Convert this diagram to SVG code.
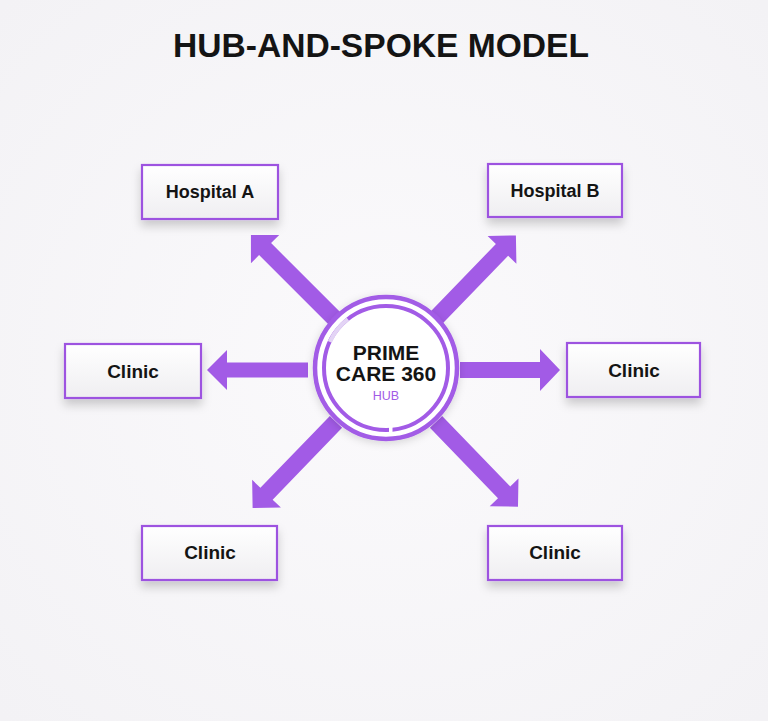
<svg xmlns="http://www.w3.org/2000/svg" width="768" height="721" viewBox="0 0 768 721">
<defs>
<radialGradient id="bg" cx="50%" cy="50%" r="70%">
<stop offset="0" stop-color="#fbfafc"/>
<stop offset="1" stop-color="#f3f2f5"/>
</radialGradient>
<linearGradient id="boxfill" x1="0" y1="0" x2="0" y2="1">
<stop offset="0" stop-color="#ffffff"/>
<stop offset="1" stop-color="#efeef1"/>
</linearGradient>
<filter id="shadow" x="-20%" y="-20%" width="140%" height="160%">
<feDropShadow dx="0" dy="6" stdDeviation="5" flood-color="#000" flood-opacity="0.18"/>
</filter>
<filter id="hubshadow" x="-20%" y="-20%" width="140%" height="140%">
<feDropShadow dx="0" dy="2" stdDeviation="4" flood-color="#000" flood-opacity="0.15"/>
</filter>
</defs>
<style>
.box{fill:url(#boxfill);stroke:#9d52e0;stroke-width:2.2;filter:url(#shadow)}
.lbl{font-family:"Liberation Sans",Arial,sans-serif;font-weight:bold;fill:#141414;text-anchor:middle}
.arrow{fill:#a25be6}
</style>
<rect width="768" height="721" fill="url(#bg)"/>
<text class="lbl" x="381" y="57" font-size="33.6">HUB-AND-SPOKE MODEL</text>
<g id="connectors">
<path class="arrow" transform="translate(386,370) rotate(180)" d="M78,-7.5 L159,-7.5 L159,-20 L179,0 L159,20 L159,7.5 L78,7.5 Z"/>
<path class="arrow" transform="translate(386,370)" d="M74,-8 L154,-8 L154,-21 L174,0 L154,21 L154,8 L74,8 Z"/>
<path class="arrow" transform="translate(386,370) rotate(-135)" d="M72,-8.5 L171,-8.5 L171,-20 L191,0 L171,20 L171,8.5 L72,8.5 Z"/>
<path class="arrow" transform="translate(386,370) rotate(-46)" d="M72,-8.5 L167,-8.5 L167,-20 L187,0 L167,20 L167,8.5 L72,8.5 Z"/>
<path class="arrow" transform="translate(386,370) rotate(134)" d="M72,-8.5 L172,-8.5 L172,-20 L192,0 L172,20 L172,8.5 L72,8.5 Z"/>
<path class="arrow" transform="translate(386,370) rotate(46)" d="M72,-8.5 L170,-8.5 L170,-20 L190,0 L170,20 L170,8.5 L72,8.5 Z"/>
</g>
<g id="hub">
<circle cx="386" cy="368" r="71" fill="#ffffff" stroke="#a25be6" stroke-width="4.5" filter="url(#hubshadow)"/>
<circle cx="386" cy="368" r="62" fill="none" stroke="#a25be6" stroke-width="4"/>
<path d="M329.8,341.8 A62,62 0 0 1 347.8,319.1" fill="none" stroke="#e3d4f5" stroke-width="4.2"/>
<rect x="389" y="426" width="3.5" height="8" fill="#ffffff"/>
<text class="lbl" x="386" y="360" font-size="21">PRIME</text>
<text class="lbl" x="386" y="381" font-size="21">CARE 360</text>
<text x="386" y="400" font-size="12.5" fill="#a25be6" text-anchor="middle" font-family="Liberation Sans,Arial,sans-serif">HUB</text>
</g>
<g id="hospital-a">
<rect class="box" x="142" y="165" width="136" height="54"/>
<text class="lbl" x="210" y="198" font-size="18">Hospital A</text>
</g>
<g id="hospital-b">
<rect class="box" x="488" y="164" width="134" height="53"/>
<text class="lbl" x="555" y="197" font-size="18">Hospital B</text>
</g>
<g id="clinic-left">
<rect class="box" x="65" y="344" width="136" height="54"/>
<text class="lbl" x="133" y="378" font-size="19">Clinic</text>
</g>
<g id="clinic-right">
<rect class="box" x="567" y="343" width="133" height="54"/>
<text class="lbl" x="634" y="377" font-size="19">Clinic</text>
</g>
<g id="clinic-bottom-left">
<rect class="box" x="142" y="526" width="135" height="54"/>
<text class="lbl" x="210" y="559" font-size="19">Clinic</text>
</g>
<g id="clinic-bottom-right">
<rect class="box" x="488" y="526" width="134" height="54"/>
<text class="lbl" x="555" y="559" font-size="19">Clinic</text>
</g>
</svg>
